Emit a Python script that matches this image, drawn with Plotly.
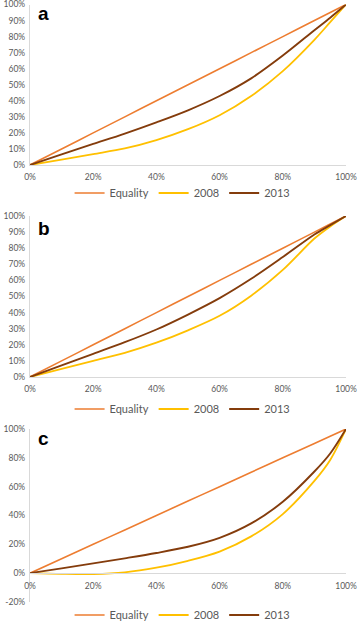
import plotly.graph_objects as go

# ---- data (percent) ----
x_pct = [0, 10, 20, 30, 40, 50, 60, 70, 80, 90, 95, 100]
equality = [0, 10, 20, 30, 40, 50, 60, 70, 80, 90, 95, 100]

a_2008 = [0, 3.4, 6.8, 10.3, 15.5, 22.3, 31, 43, 58.5, 78, 89, 100]
a_2013 = [0, 6.6, 13.1, 19.6, 26.6, 34.1, 43, 54, 68.2, 84, 91.8, 100]

b_2008 = [0, 5, 10, 15, 21.3, 29, 38, 50.5, 66.5, 86, 93.5, 100]
b_2013 = [0, 7.2, 14.4, 21.6, 29.5, 38.8, 49, 61, 74.5, 88.5, 94.3, 100]

c_2008 = [0, -0.5, -0.6, 0.6, 3.8, 8.6, 15, 25.5, 41, 64, 78.5, 100]
c_2013 = [0, 3.3, 6.8, 10.3, 14, 18.3, 24.5, 34.5, 49.5, 70.5, 83, 100]

series_names = ["Equality", "2008", "2013"]
panel_labels = ["a", "b", "c"]

x_ticks = [0, 20, 40, 60, 80, 100]
y_ticks_ab = [0, 10, 20, 30, 40, 50, 60, 70, 80, 90, 100]
y_ticks_c = [-20, 0, 20, 40, 60, 80, 100]

# ---- style ----
colors = ["#ED7D31", "#FFC000", "#843C0C"]
widths = [1.6, 1.8, 1.9]
W, H = 358, 622
TICK = dict(family="Lato, Liberation Sans, sans-serif", size=8.5, color="#595959")
LEG = dict(family="Lato, Liberation Sans, sans-serif", size=11, color="#595959")
AXLINE = "#D9D9D9"


def py(px):
    return 1 - px / H


x_dom = [30 / W, 346 / W]
doms = [
    [py(165), py(4.5)],
    [py(377), py(216)],
    [py(602), py(429)],
]

panels = [
    (x_pct, [equality, a_2008, a_2013]),
    (x_pct, [equality, b_2008, b_2013]),
    (x_pct, [equality, c_2008, c_2013]),
]

fig = go.Figure()
legend_keys = ["legend", "legend2", "legend3"]
for p, (xs, ys_list) in enumerate(panels):
    suf = "" if p == 0 else str(p + 1)
    for k, ys in enumerate(ys_list):
        fig.add_trace(go.Scatter(
            x=xs, y=ys, mode="lines", name=series_names[k],
            line=dict(color=colors[k], width=widths[k], shape="spline", smoothing=0.9),
            xaxis="x" + suf, yaxis="y" + suf,
            legend=legend_keys[p], hoverinfo="skip", cliponaxis=False,
        ))

layout = dict(
    width=W, height=H,
    margin=dict(l=0, r=0, t=0, b=0, autoexpand=False),
    paper_bgcolor="white", plot_bgcolor="white",
    font=TICK,
)

legend_y = [py(193), py(409), py(615)]
for p in range(3):
    suf = "" if p == 0 else str(p + 1)
    yr = [0, 100] if p < 2 else [-20, 100]
    yt = y_ticks_ab if p < 2 else y_ticks_c
    xa = dict(
        domain=x_dom, range=[0, 100], tickvals=x_ticks,
        ticktext=[f"{v}%" for v in x_ticks], automargin=False,
        showgrid=False, zeroline=False, showline=True, linecolor=AXLINE, linewidth=1.3,
        ticks="", tickfont=TICK, fixedrange=True, ticklabelstandoff=4,
        ticklabeloverflow="allow",
    )
    if p < 2:
        xa["anchor"] = "y" + suf
    else:
        d0, d1 = doms[p]
        xa["anchor"] = "free"
        xa["position"] = d0 + (d1 - d0) * (0 - yr[0]) / (yr[1] - yr[0])
    ya = dict(
        domain=doms[p], range=yr, tickvals=yt, ticktext=[f"{v}%" for v in yt],
        anchor="x" + suf, showgrid=False, zeroline=False, showline=True, automargin=False,
        linecolor=AXLINE, linewidth=1.3, ticks="", tickfont=TICK, fixedrange=True,
        ticklabelstandoff=2, ticklabeloverflow="allow",
    )
    layout["xaxis" + suf] = xa
    layout["yaxis" + suf] = ya
    layout[legend_keys[p]] = dict(
        orientation="h", x=0.51, xanchor="center", y=legend_y[p], yanchor="middle",
        font=LEG, bgcolor="rgba(0,0,0,0)", itemwidth=30, tracegroupgap=0,
    )

fig.update_layout(**layout)

letter_y = [13, 228, 438.5]
for p in range(3):
    fig.add_annotation(
        text=f"<b>{panel_labels[p]}</b>", xref="paper", yref="paper",
        x=36 / W, y=py(letter_y[p]), xanchor="left", yanchor="middle",
        showarrow=False, font=dict(family="Liberation Sans, Arial, sans-serif", size=19, color="black"),
    )

fig.write_html(
    "out.html",
    config={"displayModeBar": False, "staticPlot": False},
    post_script="document.body.style.margin='0';document.body.style.overflow='hidden';",
)
